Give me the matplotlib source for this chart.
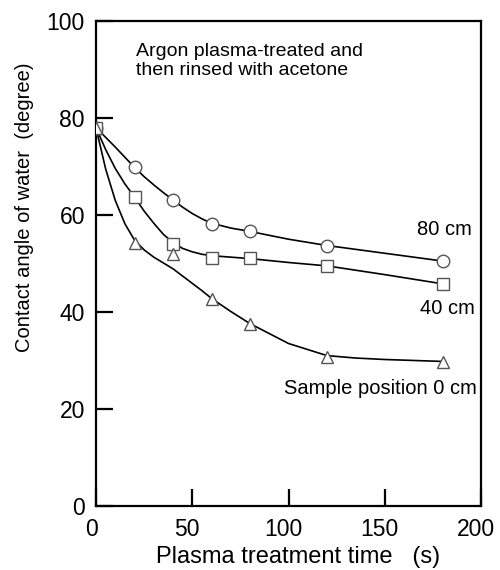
import matplotlib
matplotlib.use("Agg")
import matplotlib.pyplot as plt
import matplotlib.transforms as mtransforms

plt.rcParams['font.family'] = ['Liberation Sans', 'DejaVu Sans']

# measured points
time_s = [0, 20, 40, 60, 80, 120, 180]
angle_80cm = [78, 69.8, 63.1, 58.1, 56.6, 53.6, 50.5]
angle_40cm = [78, 63.7, 54.0, 51.2, 51.1, 49.5, 45.8]
angle_0cm = [78, 54.3, 51.9, 42.6, 37.5, 30.7, 29.6]

# drawn guide curves
curve_x = [0, 5, 10, 15, 20, 25, 30, 35, 40, 45, 50, 55, 60, 70, 80, 100, 120, 135, 150, 180]
curve_80cm = [78, 76.0, 74.0, 71.9, 69.8, 67.9, 66.2, 64.6, 63.1, 61.6, 60.3, 59.2, 58.3, 57.3, 56.6, 55.0, 53.7, 52.9, 52.1, 50.5]
curve_40cm = [78, 73.5, 69.6, 66.4, 63.7, 60.8, 58.3, 56.0, 54.3, 53.1, 52.4, 51.9, 51.6, 51.3, 51.0, 50.2, 49.5, 48.6, 47.7, 45.8]
curve_0cm = [78, 69.5, 63.0, 58.2, 54.8, 52.8, 51.3, 50.1, 48.9, 47.4, 45.9, 44.4, 42.8, 40.1, 37.6, 33.5, 31.0, 30.5, 30.2, 29.8]

xticks = [0, 50, 100, 150, 200]
yticks = [0, 20, 40, 60, 80, 100]

fig = plt.figure(figsize=(5, 5.7), dpi=100)
ax = fig.add_axes([0.192, 0.1123, 0.77, 0.851])

mk = dict(markersize=9, markerfacecolor='white', markeredgecolor='#555555',
          markeredgewidth=1.0, linestyle='none', zorder=3)
ax.plot(curve_x, curve_80cm, color='black', lw=1.2, zorder=2)
ax.plot(curve_x, curve_40cm, color='black', lw=1.2, zorder=2)
ax.plot(curve_x, curve_0cm, color='black', lw=1.2, zorder=2)
ax.plot(time_s, angle_80cm, marker='o', **mk)
ax.plot(time_s, angle_40cm, marker='s', **mk)
ax.plot(time_s, angle_0cm, marker='^', **mk)

ax.set_xlim(0, 200)
ax.set_ylim(0, 100)
ax.set_xticks(xticks)
ax.set_yticks(yticks)
ax.tick_params(direction='in', length=12, width=1.6, labelsize=16.5, top=False, right=False)
ax.tick_params(axis='x', pad=9)
ax.tick_params(axis='y', pad=8)
for s in ax.spines.values():
    s.set_linewidth(1.6)

# shift x tick labels slightly left, like the original
offset = mtransforms.ScaledTranslation(-5 / 100, 0, fig.dpi_scale_trans)
for lab in ax.get_xticklabels():
    lab.set_transform(lab.get_transform() + offset)

fig.text(298 / 500, 1 - 557 / 570, "Plasma treatment time   (s)", ha='center', va='center', fontsize=17)
fig.text(25 / 500, 1 - 207 / 570, "Contact angle of water  (degree)", ha='center', va='center',
         rotation=90, fontsize=14.5)

ax.text(20.8, 95.5, "Argon plasma-treated and\nthen rinsed with acetone", ha='left', va='top',
        fontsize=14, linespacing=1.15)
ax.text(195.5, 56.9, "80 cm", ha='right', va='center', fontsize=14.5)
ax.text(197, 40.8, "40 cm", ha='right', va='center', fontsize=14.5)
ax.text(198, 24.3, "Sample position 0 cm", ha='right', va='center', fontsize=14.5)

fig.savefig("out.png", dpi=100)
